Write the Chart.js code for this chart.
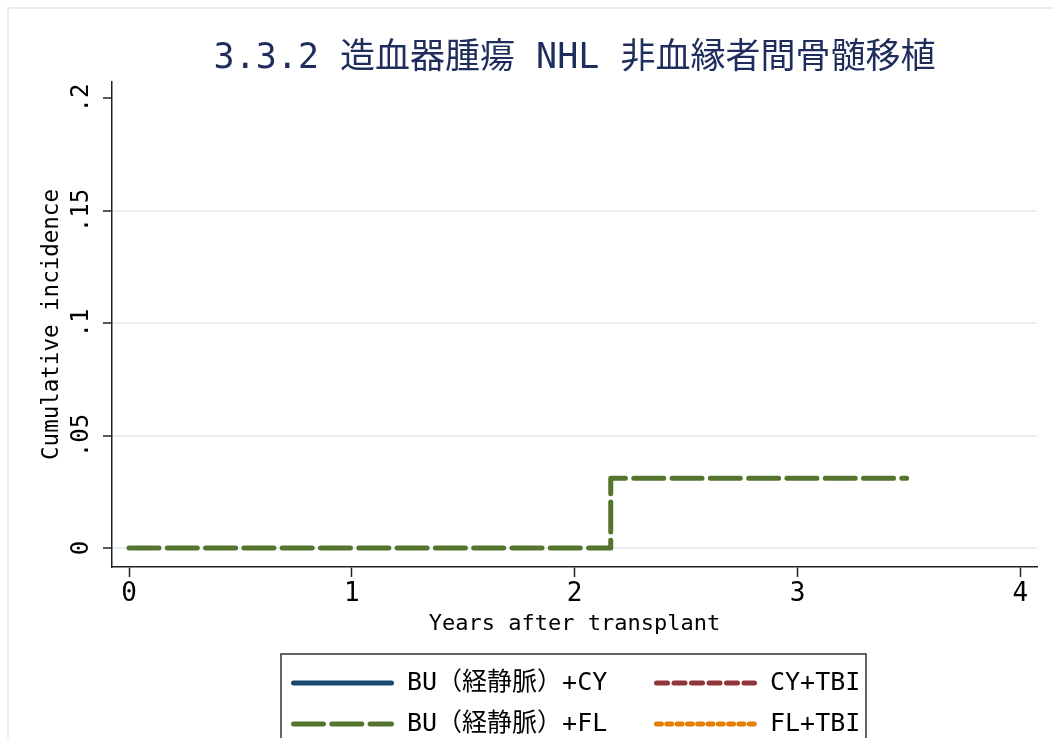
<!DOCTYPE html>
<html>
<head>
<meta charset="utf-8">
<title>3.3.2 造血器腫瘍 NHL 非血縁者間骨髄移植</title>
<script src="https://cdn.jsdelivr.net/npm/chart.js@4.4.0/dist/chart.umd.min.js"></script>
<style>
  html, body { margin: 0; padding: 0; background: #fff; }
  canvas { display: block; }
</style>
</head>
<body>
<canvas id="chart" width="1053" height="738"></canvas>
<script>
'use strict';

var titleText = '3.3.2 造血器腫瘍 NHL 非血縁者間骨髄移植';
var seriesNames = ['BU（経静脈）+CY', 'BU（経静脈）+FL', 'CY+TBI', 'FL+TBI'];
var seriesColors = ['#1a476f', '#55752f', '#90353b', '#e37e00'];
var seriesDashes = [[], [30, 8.3], [11, 6.5], [5, 5.3]];

// years after transplant / cumulative incidence for each regimen
var buCyYears = [];
var buCyInc = [];
var buFlYears = [0, 2.162, 3.49];
var buFlInc = [0, 0.031, 0.031];
var cyTbiYears = [];
var cyTbiInc = [];
var flTbiYears = [];
var flTbiInc = [];

var xTicks = [0, 1, 2, 3, 4];
var yTicks = [0, 0.05, 0.1, 0.15, 0.2];
var yTickLabels = ['0', '.05', '.1', '.15', '.2'];

var fontFamily = "'DejaVu Sans Mono', 'Noto Sans CJK JP', monospace";
Chart.defaults.font.family = fontFamily;
Chart.defaults.color = '#000';

function toPoints(xs, ys) {
  var pts = [];
  for (var i = 0; i < xs.length; i++) {
    pts.push({ x: xs[i], y: ys[i] });
  }
  return pts;
}

var allSeries = [
  toPoints(buCyYears, buCyInc),
  toPoints(buFlYears, buFlInc),
  toPoints(cyTbiYears, cyTbiInc),
  toPoints(flTbiYears, flTbiInc)
];

var datasets = [];
for (var i = 0; i < allSeries.length; i++) {
  datasets.push({
    label: seriesNames[i],
    data: allSeries[i],
    borderColor: seriesColors[i],
    backgroundColor: seriesColors[i],
    borderWidth: 5,
    borderDash: seriesDashes[i],
    borderCapStyle: 'round',
    borderJoinStyle: 'round',
    stepped: 'before',
    pointRadius: 0,
    fill: false
  });
}

// white page with the thin grey-blue frame along the top and left
var pageFrame = {
  id: 'pageFrame',
  beforeDraw: function(chart) {
    var ctx = chart.ctx;
    ctx.save();
    ctx.fillStyle = '#ffffff';
    ctx.fillRect(0, 0, chart.width, chart.height);
    ctx.fillStyle = '#e6edf1';
    ctx.fillRect(7, 7, chart.width - 7, 2);
    ctx.fillRect(7, 7, 2, chart.height - 7);
    ctx.restore();
  }
};

// boxed legend, two columns, filled column by column
var boxLegend = {
  id: 'boxLegend',
  afterDraw: function(chart) {
    var ctx = chart.ctx;
    var cols = [291, 654];
    var rows = [683, 724];
    ctx.save();
    ctx.strokeStyle = '#333';
    ctx.lineWidth = 1.5;
    ctx.strokeRect(281, 654, 585, 120);
    ctx.font = '25px ' + fontFamily;
    ctx.textBaseline = 'middle';
    chart.data.datasets.forEach(function(ds, k) {
      var x = cols[Math.floor(k / 2)];
      var y = rows[k % 2];
      ctx.beginPath();
      ctx.strokeStyle = ds.borderColor;
      ctx.lineWidth = ds.borderWidth;
      ctx.lineCap = 'round';
      ctx.setLineDash(ds.borderDash);
      ctx.moveTo(x + 2.5, y);
      ctx.lineTo(x + 100.5, y);
      ctx.stroke();
      ctx.setLineDash([]);
      ctx.fillStyle = '#000';
      ctx.fillText(ds.label, x + 116, y);
    });
    ctx.restore();
  }
};

var ctx = document.getElementById('chart').getContext('2d');

new Chart(ctx, {
  type: 'line',
  data: { datasets: datasets },
  options: {
    responsive: false,
    animation: false,
    layout: { padding: { top: 0, left: 0, right: 16, bottom: 91 } },
    plugins: {
      legend: { display: false },
      tooltip: { enabled: false },
      title: {
        display: true,
        text: titleText,
        fullSize: false,
        color: '#1f2d5c',
        font: { size: 35, weight: 'normal' },
        padding: { top: 38, bottom: 2 }
      }
    },
    scales: {
      x: {
        type: 'linear',
        min: -0.0763,
        max: 4.075,
        afterFit: function(scale) { scale.height = 80; },
        afterBuildTicks: function(scale) {
          scale.ticks = xTicks.map(function(v) { return { value: v }; });
        },
        ticks: {
          autoSkip: false,
          maxRotation: 0,
          minRotation: 0,
          padding: 2,
          font: { size: 26 },
          callback: function(value) { return String(value); }
        },
        grid: { drawOnChartArea: false, tickLength: 10, tickColor: '#222', tickWidth: 1.5 },
        border: { color: '#222', width: 1.5 },
        title: {
          display: true,
          text: 'Years after transplant',
          font: { size: 22 },
          padding: { top: 0, bottom: 10 }
        }
      },
      y: {
        type: 'linear',
        min: -0.0084,
        max: 0.2071,
        afterFit: function(scale) { scale.width = 112; },
        afterBuildTicks: function(scale) {
          scale.ticks = yTicks.map(function(v) { return { value: v }; });
        },
        ticks: {
          autoSkip: false,
          minRotation: 90,
          maxRotation: 90,
          crossAlign: 'center',
          padding: 0,
          font: { size: 24 },
          callback: function(value) {
            var k = yTicks.indexOf(value);
            return k >= 0 ? yTickLabels[k] : '';
          }
        },
        grid: {
          color: function(c) {
            return c.tick && c.tick.value >= 0.2 ? 'rgba(0,0,0,0)' : '#e8eff1';
          },
          lineWidth: 2,
          tickLength: 9,
          tickColor: '#222',
          tickWidth: 1.5
        },
        border: { color: '#222', width: 1.5 },
        title: {
          display: true,
          text: 'Cumulative incidence',
          font: { size: 22.5 },
          padding: { top: 39, bottom: 0 }
        }
      }
    }
  },
  plugins: [pageFrame, boxLegend]
});
</script>
</body>
</html>
